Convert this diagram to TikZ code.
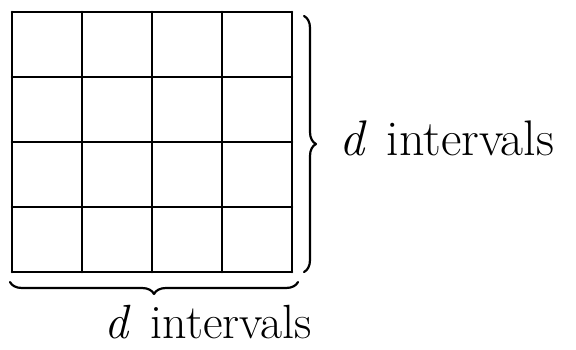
\documentclass[tikz,border=0pt]{standalone}
\usepackage{fontspec}
\usetikzlibrary{decorations.pathreplacing, calc}

\begin{document}
\begin{tikzpicture}[x=1pt,y=-1pt,line width=2.6pt,line cap=round,line join=round]
				\useasboundingbox (0,0) rectangle (576,349);
				% grid
				\foreach \x in {0,...,4}
				\draw (12+70*\x,12) -- (12+70*\x,272);
				\foreach \y in {0,...,4}
				\draw (12,12+65*\y) -- (292,12+65*\y);
				% braces
				\draw[line width=2.2pt,decorate,decoration={brace,amplitude=12pt}] (304,16) -- (304,272);
				\draw[line width=2.2pt,decorate,decoration={brace,amplitude=12pt}] (298,282) -- (10,282);
				\node[anchor=west,inner sep=0pt] (dright) at (338,138) {\fontsize{50}{58}\selectfont\textit{d}\hspace{20pt}intervals};
				\node[inner sep=0pt] (dbottom) at (208,322) {\fontsize{48}{56}\selectfont\textit{d}\hspace{20pt}intervals};
			\end{tikzpicture}
\end{document}
